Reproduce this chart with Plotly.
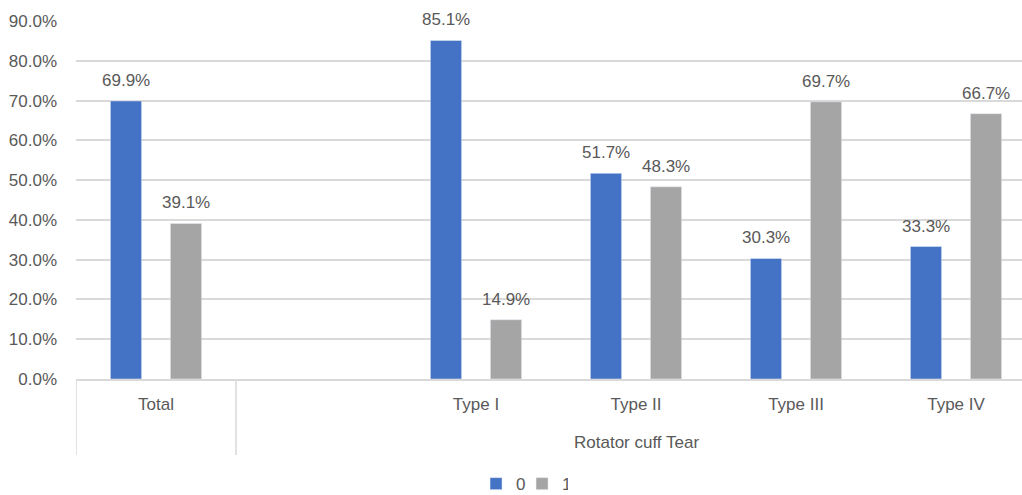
import plotly.graph_objects as go

# Categories (second slot left blank as a spacer inside the "Rotator cuff Tear" group)
categories = ["Total", " ", "Type I", "Type II", "Type III", "Type IV"]
group_label = "Rotator cuff Tear"

series_names = ["0", "1"]
values_0 = [0.699, None, 0.851, 0.517, 0.303, 0.333]
values_1 = [0.391, None, 0.149, 0.483, 0.697, 0.667]

colors = ["#4472C4", "#A5A5A5"]
text_color = "#595959"
grid_color = "#D9D9D9"
font_family = "Liberation Sans"

bargap = 0.25
bargroupgap = 0.48
cat_px = 160  # pixel width of one category slot
slot_px = cat_px * (1 - bargap) / 2

fig = go.Figure()
for i, (name, vals, col) in enumerate(zip(series_names, [values_0, values_1], colors)):
    fig.add_trace(go.Bar(x=categories, y=vals, name=name, marker_color=col))
    # value labels above each bar
    shift = (i - 0.5) * slot_px
    for c, v in zip(categories, vals):
        if v is None:
            continue
        fig.add_annotation(x=c, y=v, text=f"{v:.1%}", showarrow=False,
                           xref="x", yref="y", xshift=shift, yshift=9,
                           yanchor="bottom",
                           font=dict(size=17, color=text_color, family=font_family))

# Dividers between the category groups
for xpos in [-0.5, 0.5]:
    fig.add_shape(type="line", xref="x", yref="paper", x0=xpos, x1=xpos,
                  y0=0, y1=-0.212, line=dict(color=grid_color, width=1.5))

fig.add_annotation(text=group_label, xref="x", yref="paper", x=3, y=-0.178,
                   showarrow=False, yanchor="middle",
                   font=dict(size=17, color=text_color, family=font_family))

fig.update_layout(
    width=1022, height=495,
    margin=dict(l=76, r=0, t=21, b=116, autoexpand=False),
    paper_bgcolor="white", plot_bgcolor="white",
    barmode="group", bargap=bargap, bargroupgap=bargroupgap,
    font=dict(family=font_family, size=17, color=text_color),
    showlegend=True,
    legend=dict(orientation="h", x=0.4715, xanchor="center",
                yref="container", y=0.022, yanchor="middle",
                font=dict(size=17, color=text_color), itemwidth=30,
                entrywidth=1, entrywidthmode="pixels"),
    xaxis=dict(type="category", range=[-0.5, 5.4125], showgrid=False,
               showline=True, linecolor=grid_color, linewidth=1.5,
               ticks="", ticklabelstandoff=9,
               tickfont=dict(size=17, color=text_color)),
    yaxis=dict(range=[0, 0.9], dtick=0.1, tickformat=".1%",
               showgrid=True, gridcolor=grid_color, gridwidth=1.5,
               zeroline=False, ticks="", ticklabelstandoff=18,
               tickfont=dict(size=17, color=text_color)),
)

fig.write_html("out.html")
